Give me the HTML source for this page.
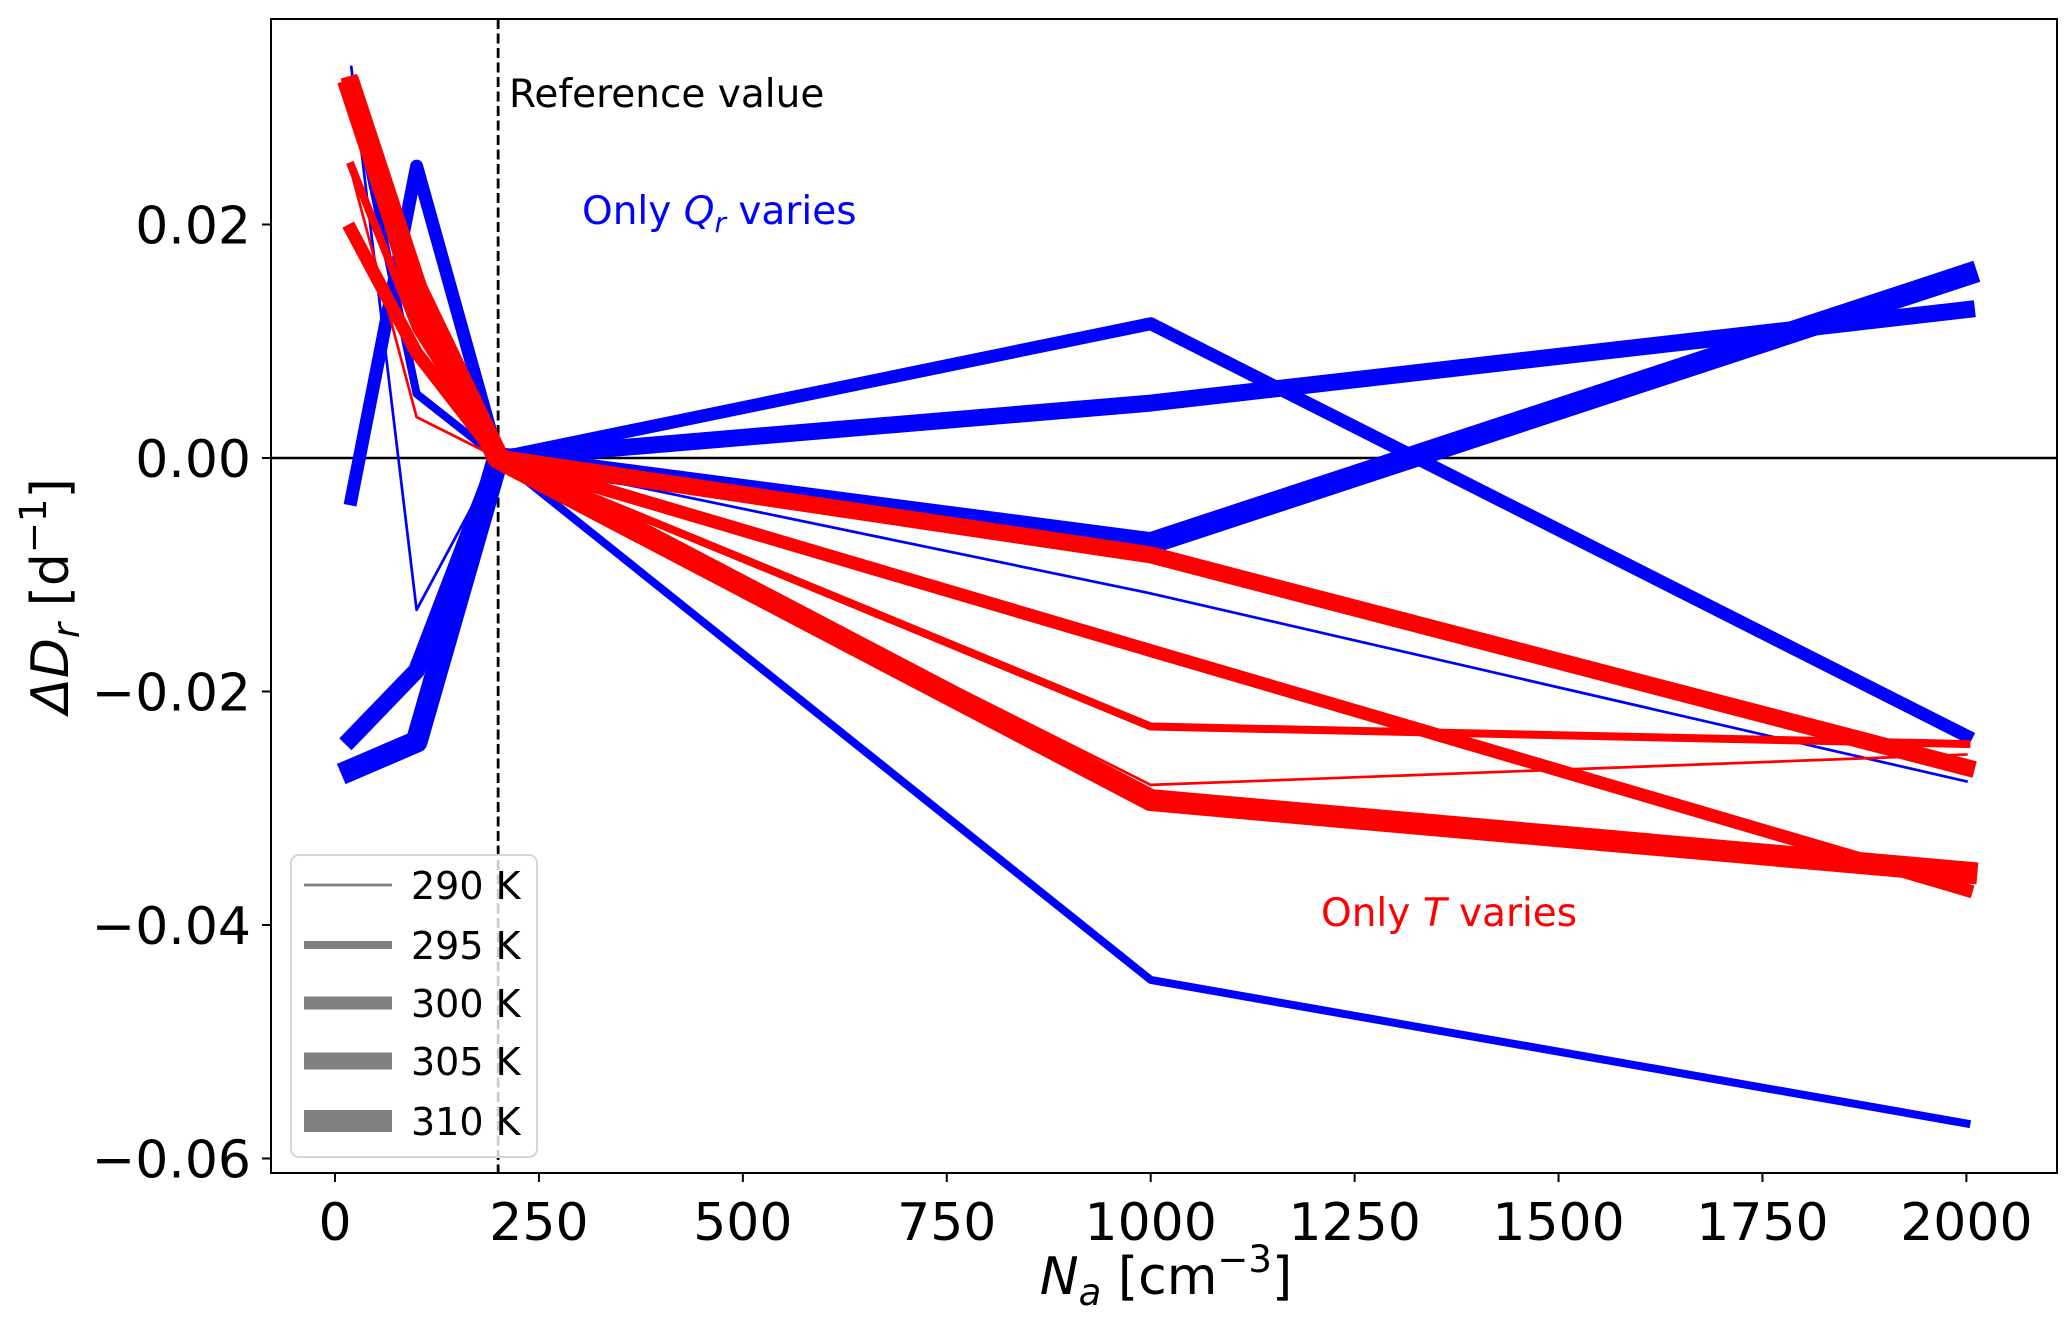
<!DOCTYPE html>
<html><head><meta charset="utf-8"><style>
html,body{margin:0;padding:0;background:#fff;}
svg{display:block;font-family:"DejaVu Sans","Liberation Sans",sans-serif;}
</style></head><body>
<svg id="chart" width="2067" height="1328" viewBox="0 0 2067 1328" xmlns="http://www.w3.org/2000/svg">
<rect x="0" y="0" width="2067" height="1328" fill="#fff"/>
<g id="plot"></g>
<g id="axes"></g>
</svg>
<script>
const xTicks = [0,250,500,750,1000,1250,1500,1750,2000];
const yTicks = [-0.06,-0.04,-0.02,0.00,0.02];
const yTickLabels = ["\u22120.06","\u22120.04","\u22120.02","0.00","0.02"];
const temps = ["290 K","295 K","300 K","305 K","310 K"];
const blueX = [20,100,200,1000,2000];
const blue290 = [0.0335,-0.013,0,-0.0116,-0.0277];
const blue295 = [0.032,0.0055,0,-0.0447,-0.057];
const blue300 = [-0.0035,0.025,0,0.0115,-0.0238];
const blue305 = [-0.024,-0.0182,0,0.0047,0.0127];
const blue310 = [-0.0267,-0.0243,0,-0.0073,0.0157];
const redX = [20,100,200,1000,2000];
const red290 = [0.0245,0.0035,0,-0.028,-0.0254];
const red295 = [0.025,0.011,0,-0.023,-0.0245];
const red300 = [0.0195,0.009,0,-0.0165,-0.037];
const red305 = [0.032,0.013,0,-0.0083,-0.0265];
const red310 = [0.0315,0.0145,0,-0.0293,-0.0355];
const refX = 200;

const NS="http://www.w3.org/2000/svg";
const L=271,R=2057,T=19,B=1173;
function sx(v){return 335+v*0.8157;}
function sy(v){return 458-v/0.02*233.5;}
function mk(tag,attrs,parent){const e=document.createElementNS(NS,tag);for(const k in attrs)e.setAttribute(k,attrs[k]);parent.appendChild(e);return e;}
const plot=document.getElementById('plot'), axes=document.getElementById('axes');
const widths=[2.7,8,13,17,22];

const defs=mk('defs',{},plot);
const cp=mk('clipPath',{id:'clip'},defs);
mk('rect',{x:L,y:T,width:R-L,height:B-T},cp);
const g=mk('g',{'clip-path':'url(#clip)'},plot);

const zl=mk('line',{x1:L,x2:R,y1:sy(0),y2:sy(0),stroke:'#000','stroke-width':2.6},g);


const rl=mk('line',{x1:sx(refX),x2:sx(refX),y1:T,y2:B,stroke:'#000','stroke-width':2.8,'stroke-dasharray':'10,4.5'},g);



function series(xs,ys,color,w,name){
  const pts=xs.map((x,i)=>sx(x).toFixed(1)+','+sy(ys[i]).toFixed(1)).join(' ');
  const p=mk('polyline',{points:pts,fill:'none',stroke:color,'stroke-width':w,'stroke-linejoin':'round','stroke-linecap':'square'},g);
  
  
}
const blues=[blue290,blue295,blue300,blue305,blue310];
const reds=[red290,red295,red300,red305,red310];
blues.forEach((s,i)=>series(blueX,s,'#0000ff',widths[i],'blue-line-'+temps[i].replace(' K','k')));
reds.forEach((s,i)=>series(redX,s,'#ff0000',widths[i],'red-line-'+temps[i].replace(' K','k')));

const fr=mk('rect',{x:L,y:T,width:R-L,height:B-T,fill:'none',stroke:'#000','stroke-width':2},axes);



xTicks.forEach(v=>{
  mk('line',{x1:sx(v),x2:sx(v),y1:B,y2:B+9,stroke:'#000','stroke-width':2},axes);
  const t=mk('text',{x:sx(v),y:1240,'font-size':52,'text-anchor':'middle',fill:'#000'},axes);
  t.textContent=String(v);
  
  
});
yTicks.forEach((v,i)=>{
  mk('line',{x1:L-9,x2:L,y1:sy(v),y2:sy(v),stroke:'#000','stroke-width':2},axes);
  const t=mk('text',{x:251,y:sy(v)+19,'font-size':52,'text-anchor':'end',fill:'#000'},axes);
  t.textContent=yTickLabels[i];
  
  
});

const xt=mk('text',{x:1166,y:1294,'font-size':52,'text-anchor':'middle',fill:'#000'},axes);
xt.innerHTML='<tspan font-style="italic">N</tspan><tspan font-size="37" dy="11" font-style="italic">a</tspan><tspan dy="-11"> [cm</tspan><tspan font-size="37" dy="-22">\u22123</tspan><tspan dy="22">]</tspan>';


const yt=mk('text',{x:0,y:0,'font-size':52,'text-anchor':'middle',fill:'#000',transform:'translate(68,596) rotate(-90)'},axes);
yt.innerHTML='<tspan font-style="italic">\u0394D</tspan><tspan font-size="37" dy="11" font-style="italic">r</tspan><tspan dy="-11"> [d</tspan><tspan font-size="37" dy="-22">\u22121</tspan><tspan dy="22">]</tspan>';



const a1=mk('text',{x:509,y:107,'font-size':39,fill:'#000'},axes);
a1.textContent='Reference value';


const a2=mk('text',{x:582,y:224,'font-size':39,fill:'#0000ff'},axes);
a2.innerHTML='Only <tspan font-style="italic">Q</tspan><tspan font-size="28" dy="8" font-style="italic">r</tspan><tspan dy="-8"> varies</tspan>';


const a3=mk('text',{x:1321,y:926,'font-size':39,fill:'#ff0000'},axes);
a3.innerHTML='Only <tspan font-style="italic">T</tspan> varies';



const lg=mk('g',{},axes);


mk('rect',{x:291,y:855,width:246,height:302,rx:8,fill:'rgba(255,255,255,0.8)',stroke:'#d6d6d6','stroke-width':2},lg);
const ly=[885,945,1003,1061,1121];
temps.forEach((t,i)=>{
  const e=mk('g',{},lg);
  
  
  mk('line',{x1:304,x2:392,y1:ly[i],y2:ly[i],stroke:'#808080','stroke-width':widths[i]},e);
  const tx=mk('text',{x:411,y:ly[i]+14,'font-size':38,fill:'#000'},e);
  tx.textContent=t;
});
</script>
</body></html>
